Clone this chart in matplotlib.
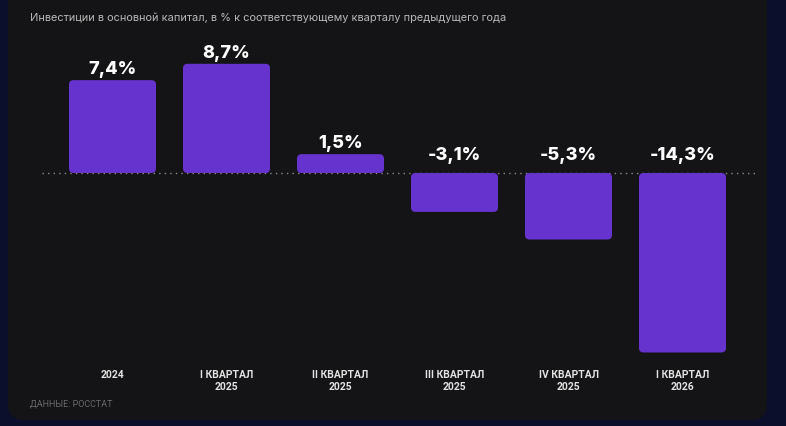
import matplotlib
matplotlib.use("Agg")
import matplotlib.pyplot as plt
from matplotlib.patches import FancyBboxPatch

categories = ["2024", "I КВАРТАЛ\n2025", "II КВАРТАЛ\n2025", "III КВАРТАЛ\n2025",
              "IV КВАРТАЛ\n2025", "I КВАРТАЛ\n2026"]
values = [7.4, 8.7, 1.5, -3.1, -5.3, -14.3]
labels = ["7,4%", "8,7%", "1,5%", "-3,1%", "-5,3%", "-14,3%"]
title = "Инвестиции в основной капитал, в % к соответствующему кварталу предыдущего года"
source = "ДАННЫЕ: РОССТАТ"

W, H = 786, 426
fig = plt.figure(figsize=(W / 100, H / 100), dpi=100)
fig.patch.set_facecolor("#0b0f2c")

# card background
card = FancyBboxPatch((8 / W, 6 / H), 759 / W, 440 / H,
                      boxstyle="round,pad=0,rounding_size=0.02",
                      mutation_aspect=W / H,
                      transform=fig.transFigure, facecolor="#141416",
                      edgecolor="none", zorder=0)
fig.patches.append(card)

ax = fig.add_axes([0, 0, 1, 1])
ax.set_zorder(2)
ax.set_facecolor("none")
ax.patch.set_alpha(0)
ppu_x = 114.0
ppu_y = 12.55
x0 = 112.5
y0 = 173.0
ax.set_xlim(-x0 / ppu_x, (W - x0) / ppu_x)
ax.set_ylim(-(H - y0) / ppu_y, y0 / ppu_y)
ax.axis("off")

bar_w = 87 / 114
rad = 0.04
for i, v in enumerate(values):
    bottom = min(0, v)
    p = FancyBboxPatch((i - bar_w / 2, bottom), bar_w, abs(v),
                       boxstyle=f"round,pad=0,rounding_size={rad}",
                       mutation_aspect=ppu_x / ppu_y,
                       facecolor="#6733cf", edgecolor="none", zorder=3)
    ax.add_patch(p)
    ly = v + 0.15 if v > 0 else 0.75
    ax.text(i, ly, labels[i], ha="center", va="bottom", color="white",
            fontsize=13, fontweight="heavy", family=["Inter", "DejaVu Sans"], zorder=4)
    ax.text(i, -(370 - y0) / ppu_y, categories[i], ha="center", va="top",
            color="#e2e2e2", fontsize=7.5, fontweight="bold",
            family=["Roboto", "DejaVu Sans"], linespacing=1.2, zorder=4)

ax.plot([(42 - x0) / ppu_x, (755 - x0) / ppu_x], [0, 0], color="#8a8a8a",
        linestyle=(0, (1, 3)), linewidth=1.0, zorder=2)

fig.text(30 / W, 1 - 18 / H, title, ha="left", va="center", color="#b8b8b8",
         fontsize=7.9, family=["Inter", "DejaVu Sans"], zorder=5)
fig.text(30 / W, 1 - 404 / H, source, ha="left", va="center", color="#6a6a6a",
         fontsize=6.5, family=["Roboto", "DejaVu Sans"], zorder=5)

fig.savefig("out.png", dpi=100, facecolor=fig.get_facecolor())
